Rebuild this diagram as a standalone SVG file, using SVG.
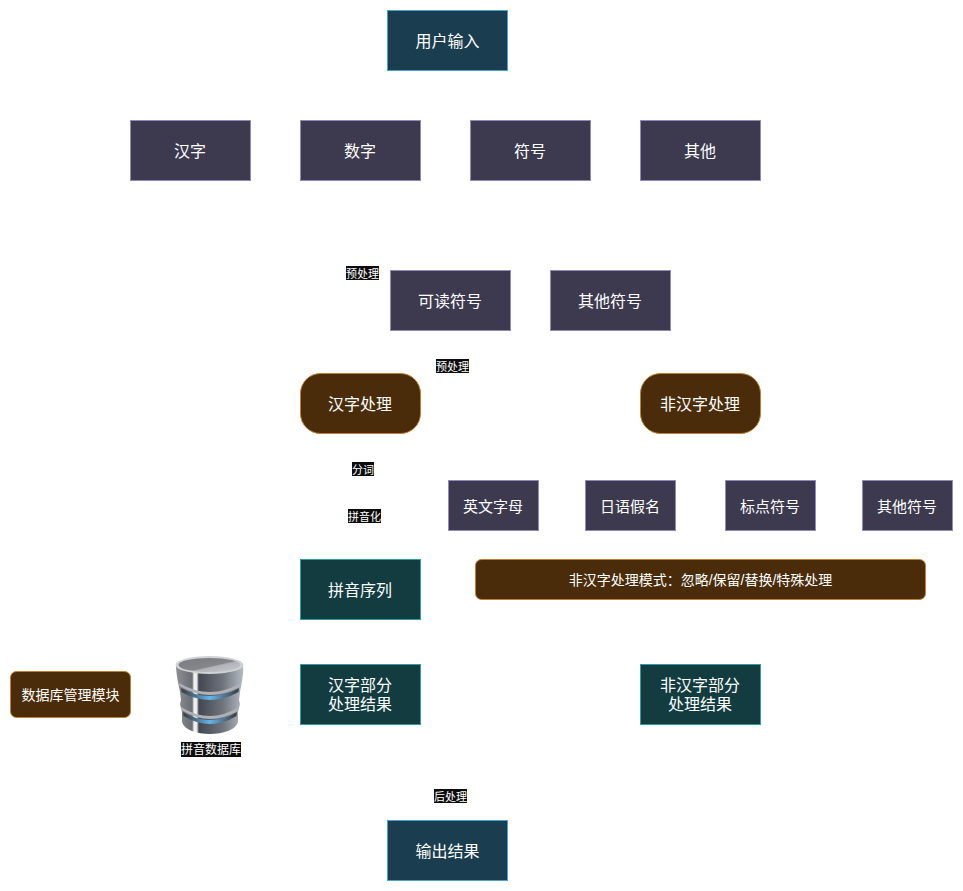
<svg xmlns="http://www.w3.org/2000/svg" width="963" height="891" viewBox="0 0 963 891">
<style>
text{font-family:"Liberation Sans","Noto Sans CJK SC","Noto Sans",sans-serif;fill:#fff;text-anchor:middle;dominant-baseline:central}
.t16{font-size:16px}.t15{font-size:15px}.t14{font-size:14px}.t12{font-size:12px}.t11{font-size:11px}
rect{stroke-width:1}
.io{fill:#1a3d4f;stroke:#4aa3c9}
.cat{fill:#3d3a4f;stroke:#9488bd}
.proc{fill:#4a2c0a;stroke:#c08030}
.res{fill:#123c40;stroke:#2f9ea3}
.lb{fill:#0d0d0d;stroke:none}
</style>
<defs>
<linearGradient id="body" x1="0" x2="1" y1="0" y2="0">
<stop offset="0" stop-color="#8d8f93"/><stop offset="0.24" stop-color="#6a6d72"/><stop offset="0.27" stop-color="#f4f4f4"/><stop offset="0.31" stop-color="#e8e8e8"/><stop offset="0.34" stop-color="#43474f"/><stop offset="0.7" stop-color="#70757d"/><stop offset="1" stop-color="#b4bac4"/>
</linearGradient>
<linearGradient id="top" x1="0" x2="1" y1="0" y2="1">
<stop offset="0" stop-color="#77797d"/><stop offset="0.55" stop-color="#85878b"/><stop offset="0.6" stop-color="#b0b3b8"/><stop offset="1" stop-color="#c8cbd0"/>
</linearGradient>
<linearGradient id="glow" x1="0" x2="1" y1="0" y2="0">
<stop offset="0.05" stop-color="#3f454d"/><stop offset="0.5" stop-color="#63b4ea"/><stop offset="0.95" stop-color="#3f454d"/>
</linearGradient>
</defs>
<g id="connectors"></g>
<g id="n-input"><rect class="io" x="387.5" y="10.5" width="120" height="60"/><text class="t16" x="447.5" y="41">用户输入</text></g>
<g id="n-hanzi"><rect class="cat" x="130.5" y="120.5" width="120" height="60"/><text class="t16" x="190" y="151">汉字</text></g>
<g id="n-digit"><rect class="cat" x="300.5" y="120.5" width="120" height="60"/><text class="t16" x="360" y="151">数字</text></g>
<g id="n-symbol"><rect class="cat" x="470.5" y="120.5" width="120" height="60"/><text class="t16" x="530" y="151">符号</text></g>
<g id="n-other"><rect class="cat" x="640.5" y="120.5" width="120" height="60"/><text class="t16" x="700" y="151">其他</text></g>
<g id="n-readable"><rect class="cat" x="390.5" y="270.5" width="120" height="60"/><text class="t16" x="450" y="301">可读符号</text></g>
<g id="n-othersym"><rect class="cat" x="550.5" y="270.5" width="120" height="60"/><text class="t16" x="610" y="301">其他符号</text></g>
<g id="n-hanproc"><rect class="proc" x="300.5" y="373.5" width="120" height="60" rx="20" ry="20"/><text class="t16" x="360" y="404">汉字处理</text></g>
<g id="n-nonhanproc"><rect class="proc" x="640.5" y="373.5" width="120" height="60" rx="20" ry="20"/><text class="t16" x="700" y="404">非汉字处理</text></g>
<g id="n-en"><rect class="cat" x="448.5" y="480.5" width="90" height="50"/><text class="t15" x="493" y="506">英文字母</text></g>
<g id="n-kana"><rect class="cat" x="585.5" y="480.5" width="90" height="50"/><text class="t15" x="630" y="506">日语假名</text></g>
<g id="n-punct"><rect class="cat" x="725.5" y="480.5" width="90" height="50"/><text class="t15" x="770" y="506">标点符号</text></g>
<g id="n-othersym2"><rect class="cat" x="862.5" y="480.5" width="90" height="50"/><text class="t15" x="907" y="506">其他符号</text></g>
<g id="n-pinyin"><rect class="res" x="300.5" y="559.5" width="120" height="60"/><text class="t16" x="360" y="590">拼音序列</text></g>
<g id="n-mode"><rect class="proc" x="475.5" y="559.5" width="450" height="40" rx="6" ry="6"/><text class="t14" x="700.5" y="580">非汉字处理模式：忽略/保留/替换/特殊处理</text></g>
<g id="n-hanres"><rect class="res" x="300.5" y="664.5" width="120" height="60"/><text class="t16" x="360" y="685">汉字部分<tspan x="360" dy="19">处理结果</tspan></text></g>
<g id="n-nonhanres"><rect class="res" x="640.5" y="664.5" width="120" height="60"/><text class="t16" x="700" y="685">非汉字部分<tspan x="700" dy="19">处理结果</tspan></text></g>
<g id="n-dbadmin"><rect class="proc" x="10.5" y="671.5" width="120" height="46" rx="6" ry="6"/><text class="t14" x="70.5" y="695">数据库管理模块</text></g>
<g id="n-db">
<path d="M176 665C176 675 179 686 180 692L181 700L180 704L182 712L182 722C186 738 234 738 238 722L238 712L240 704L239 700L240 692C241 686 244 675 243 665Z" fill="url(#body)"/>
<path d="M179 683Q210 701 241 683L240.500 686Q210 704 179.500 686Z" fill="#aeb2b8"/>
<path d="M181 688Q210 704 239 688L238.500 692Q210 708 181.500 692Z" fill="url(#glow)"/>
<path d="M181 707Q210 725 239 707L238.500 710Q210 728 181.500 710Z" fill="#aeb2b8"/>
<path d="M183 712Q210 728 237 712L236.500 716Q210 732 183.500 716Z" fill="url(#glow)"/>
<ellipse cx="209.500" cy="665" rx="34" ry="9" fill="#d0d2d6"/>
<ellipse cx="209.500" cy="665" rx="31" ry="7" fill="url(#top)"/>
<rect class="lb" x="181" y="742" width="60" height="15"/><text class="t12" x="211" y="750">拼音数据库</text>
</g>
<g id="n-output"><rect class="io" x="387.5" y="820.5" width="120" height="60"/><text class="t16" x="447.5" y="851">输出结果</text></g>
<g id="labels">
<rect class="lb" x="346" y="266" width="33" height="14"/><text class="t11" x="362.5" y="273.500">预处理</text>
<rect class="lb" x="436" y="359" width="33" height="14"/><text class="t11" x="452.5" y="366.500">预处理</text>
<rect class="lb" x="352" y="462" width="22" height="14"/><text class="t11" x="363" y="469.500">分词</text>
<rect class="lb" x="348" y="509" width="33" height="14"/><text class="t11" x="364.5" y="516.500">拼音化</text>
<rect class="lb" x="434" y="789" width="33" height="14"/><text class="t11" x="450.5" y="796.500">后处理</text>
</g>
</svg>
